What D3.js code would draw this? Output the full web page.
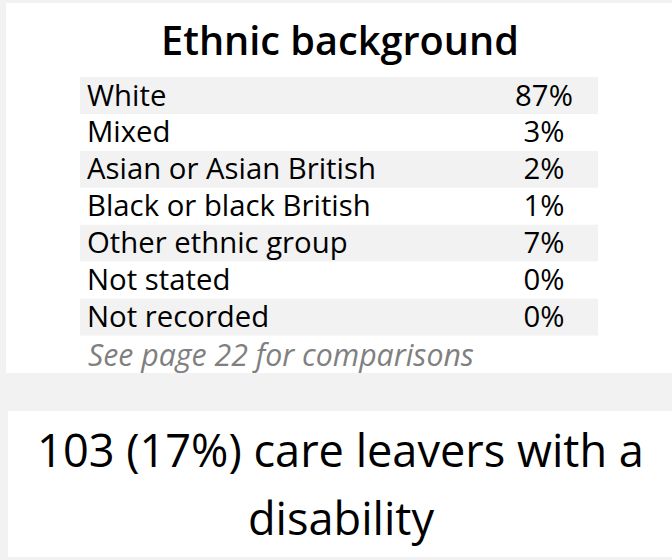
<!DOCTYPE html>
<html>
<head>
<meta charset="utf-8">
<script src="https://cdn.jsdelivr.net/npm/d3@7"></script>
<style>
  html, body { margin: 0; padding: 0; background: #f2f2f2; }
  svg { display: block; }
</style>
</head>
<body>
<svg id="chart" width="672" height="560"></svg>
<script>
// ---- data ----
const title = "Ethnic background";
const categories = ["White", "Mixed", "Asian or Asian British", "Black or black British",
                    "Other ethnic group", "Not stated", "Not recorded"];
const percentages = [87, 3, 2, 1, 7, 0, 0];
const footnote = "See page 22 for comparisons";
const disabilityCount = 103;
const disabilityPct = 17;
const disabilityLines = [`${disabilityCount} (${disabilityPct}%) care leavers with a`, "disability"];

// ---- layout ----
const W = 672, H = 560;
const FONT = "'Open Sans', 'Noto Sans', sans-serif";
const svg = d3.select("#chart");

svg.append("rect").attr("x", 0).attr("y", 0).attr("width", W).attr("height", H).attr("fill", "#f2f2f2");
// top panel
svg.append("rect").attr("x", 6).attr("y", 3).attr("width", W - 6).attr("height", 370).attr("fill", "#ffffff");
// bottom panel
svg.append("rect").attr("x", 8).attr("y", 411).attr("width", W - 8).attr("height", 146).attr("fill", "#ffffff");

// fit a text element's font size to a target width
function fitWidth(sel, target) {
  const node = sel.node();
  const fs = parseFloat(sel.attr("font-size"));
  const w = node.getComputedTextLength();
  const nfs = fs * target / w;
  sel.attr("font-size", nfs.toFixed(2));
  return nfs;
}

// title
const t = svg.append("text")
  .attr("x", 340).attr("y", 55)
  .attr("text-anchor", "middle")
  .attr("font-family", FONT).attr("font-weight", 600)
  .attr("font-size", 36).attr("fill", "#000")
  .text(title);
fitWidth(t, 358);

// table rows
const y = d3.scaleBand().domain(categories).range([77, 335.5]).paddingInner(0).paddingOuter(0);
const x0 = 80, x1 = 598;

// label font size from longest label
const probe = svg.append("text").attr("font-family", FONT).attr("font-size", 28).text("Asian or Asian British");
const labelFs = fitWidth(probe, 289);
probe.remove();

const rows = svg.append("g").selectAll("g").data(categories).join("g")
  .attr("transform", d => `translate(0,${y(d)})`);

rows.append("rect")
  .attr("x", x0).attr("y", 0)
  .attr("width", x1 - x0).attr("height", y.bandwidth())
  .attr("fill", (d, i) => i % 2 === 0 ? "#f2f2f2" : "#ffffff");

rows.append("text")
  .attr("x", 87).attr("y", 28.5)
  .attr("font-family", FONT).attr("font-size", labelFs).attr("fill", "#000")
  .text(d => d);

rows.append("text")
  .attr("x", 544).attr("y", 28.5)
  .attr("text-anchor", "middle")
  .attr("font-family", FONT).attr("font-size", labelFs).attr("fill", "#000")
  .text((d, i) => percentages[i] + "%");

// footnote
const fn = svg.append("text")
  .attr("x", 88).attr("y", 366)
  .attr("font-family", FONT).attr("font-style", "italic")
  .attr("font-size", 26).attr("fill", "#808080")
  .text(footnote);
fitWidth(fn, 386);

// disability text
const l1 = svg.append("text")
  .attr("x", 340.5).attr("y", 467)
  .attr("text-anchor", "middle")
  .attr("font-family", FONT).attr("font-size", 46).attr("fill", "#000")
  .text(disabilityLines[0]);
const bigFs = fitWidth(l1, 607);
svg.append("text")
  .attr("x", 341).attr("y", 535)
  .attr("text-anchor", "middle")
  .attr("font-family", FONT).attr("font-size", bigFs).attr("fill", "#000")
  .text(disabilityLines[1]);
</script>
</body>
</html>
